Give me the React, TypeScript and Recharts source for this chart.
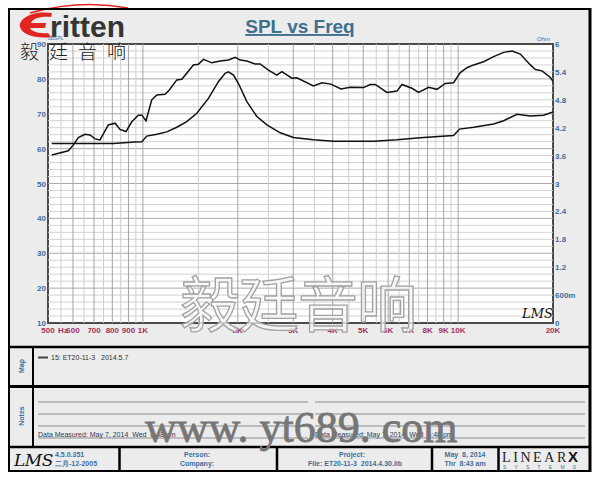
import React from "react";
import { LineChart, Line, XAxis, YAxis, ReferenceLine, ReferenceArea } from "recharts";

// SPL curve (dB)
const splFreq = [
  514, 580, 601, 624, 655, 680, 705, 731, 777, 816, 846, 884, 922, 967, 992, 1023, 1067, 1107, 1176, 1213,
  1281, 1329, 1446, 1500, 1556, 1655, 1758, 1868, 1963, 2035, 2137, 2270, 2355, 2502, 2661, 2760, 2969, 3079,
  3477, 3697, 3950, 4250, 4547, 5012, 5262, 5460, 5947, 6397, 6636, 7138, 7492, 8061, 8570, 9103, 9673, 10162,
  10670, 11198, 12045, 12963, 13946, 14827, 15754, 16950, 17579, 18466, 19621, 20000,
];
const splDb = [
  58.2, 59.4, 61.0, 63.2, 64.1, 63.9, 62.8, 62.5, 66.8, 67.3, 65.5, 64.9, 67.7, 69.6, 69.6, 68.0, 74.0, 75.4, 75.6, 76.8,
  79.7, 79.9, 84.0, 84.2, 85.6, 84.6, 85.1, 85.4, 86.2, 85.4, 85.1, 84.3, 84.3, 82.5, 81.1, 82.1, 80.2, 80.3,
  78.0, 78.9, 78.5, 77.1, 77.6, 77.5, 78.4, 78.4, 76.1, 76.5, 78.4, 77.3, 76.1, 77.6, 77.0, 78.7, 78.9, 81.8,
  83.2, 84.0, 84.9, 86.4, 87.6, 88.0, 87.1, 84.0, 82.7, 82.3, 80.4, 79.3,
];

// impedance curve (Ohm)
const zFreq = [
  514, 777, 806, 944, 992, 1029, 1107, 1191, 1281, 1378, 1483, 1614, 1736, 1823, 1868, 1938, 2010, 2137, 2299,
  2474, 2726, 3003, 3477, 4025, 5392, 6397, 7770, 9673, 10106, 11198, 12963, 13946, 15380, 16950, 18680, 20000,
];
const zOhm = [
  3.86, 3.86, 3.86, 3.89, 3.9, 4.02, 4.06, 4.11, 4.21, 4.33, 4.51, 4.83, 5.19, 5.37, 5.4, 5.33, 5.15, 4.76, 4.44,
  4.26, 4.09, 3.99, 3.94, 3.91, 3.91, 3.94, 3.99, 4.03, 4.17, 4.21, 4.28, 4.35, 4.49, 4.45, 4.47, 4.54,
];

const freqTicks = [500, 600, 700, 800, 900, 1000, 2000, 3000, 4000, 5000, 6000, 7000, 8000, 9000, 10000, 20000];
const freqLabels = ["500", "600", "700", "800", "900", "1K", "2K", "3K", "4K", "5K", "6K", "7K", "8K", "9K", "10K", "20K"];
const minorFreq = [550, 650, 750, 850, 950, 1500, 2500, 3500, 4500, 5500, 6500, 7500, 8500, 9500];
const dbTicks = [10, 20, 30, 40, 50, 60, 70, 80, 90];
const minorDb = [
  12, 14, 16, 18, 22, 24, 26, 28, 32, 34, 36, 38, 42, 44, 46, 48, 52, 54, 56, 58, 62, 64, 66, 68, 72, 74, 76, 78, 82,
  84, 86, 88,
];
const ohmTicks = [0, 0.6, 1.2, 1.8, 2.4, 3, 3.6, 4.2, 4.8, 5.4, 6];
const ohmLabels = ["0", "600m", "1.2", "1.8", "2.4", "3", "3.6", "4.2", "4.8", "5.4", "6"];

const splData = splFreq.map((f, i) => ({ f, v: splDb[i] }));
const zData = zFreq.map((f, i) => ({ f, v: zOhm[i] }));

const BLUE = "#3d6f9e";
const MAROON = "#a3335f";
const SANS = "'Liberation Sans', Arial, sans-serif";

const XTick = (props: any) => {
  const { x, y, payload } = props;
  const i = freqTicks.indexOf(payload.value);
  return (
    <g>
      <text x={x} y={y + 10} textAnchor="middle" fill={MAROON} fontSize={8} fontWeight={700} fontFamily={SANS}>
        {freqLabels[i]}
      </text>
      {payload.value === 500 && (
        <text x={x + 15} y={y + 10} textAnchor="middle" fill={MAROON} fontSize={8} fontWeight={700} fontFamily={SANS}>
          Hz
        </text>
      )}
    </g>
  );
};

const LeftTick = (props: any) => {
  const { x, y, payload } = props;
  return (
    <text x={x - 2} y={y + 3} textAnchor="end" fill={BLUE} fontSize={8} fontWeight={700} fontFamily={SANS}>
      {payload.value}
    </text>
  );
};

const RightTick = (props: any) => {
  const { x, y, payload } = props;
  const i = ohmTicks.indexOf(payload.value);
  return (
    <text x={x + 2} y={y + 3} textAnchor="start" fill={BLUE} fontSize={8} fontWeight={700} fontFamily={SANS}>
      {ohmLabels[i]}
    </text>
  );
};

function Overlay() {
  const t = { fontFamily: SANS, fontWeight: 700, fontSize: 7, fill: BLUE } as const;
  return (
    <svg width={600} height={480} style={{ position: "absolute", left: 0, top: 0, pointerEvents: "none" }}>
      {/* logo */}
      <path d="M30 13 Q80 -1 128 8" stroke="#e0261f" strokeWidth={1.6} fill="none" />
      <path
        d="M52 13 C32 10 18 19 20 27 C22 35 37 39 51 37 L48 33 C38 34 31 31 30 28 L45 28 L46 23 L31 23 C33 18 41 16 51 17 Z"
        fill="#e0261f"
      />
      <text x={50} y={37} fontFamily={SANS} fontWeight={700} fontSize={30} fill="#353535">
        ritten
      </text>
      <text x={48} y={40} fontFamily={SANS} fontSize={5} fill={BLUE}>
        dBSPL
      </text>
      <text x={20} y={59} fontFamily="'Noto Sans CJK SC'" fontSize={19} fontWeight={300} letterSpacing={10} fill="#222">
        毅廷音响
      </text>
      <text x={300} y={33} textAnchor="middle" fontFamily={SANS} fontWeight={700} fontSize={19} fill="#40708e" textDecoration="underline">
        SPL vs Freq
      </text>
      <text x={537} y={41} fontFamily={SANS} fontSize={6} fill={BLUE}>
        Ohm
      </text>
      <text x={522} y={318} fontFamily="'DejaVu Serif'" fontStyle="italic" fontSize={13} fill="#111">
        LMS
      </text>

      {/* watermark in plot */}
      <text
        x={180}
        y={327}
        fontFamily="'Noto Sans CJK SC'"
        fontWeight={400}
        fontSize={60}
        letterSpacing={-1}
        fill="#f7f7f7"
        fillOpacity={0.75}
        stroke="#a2a2a2"
        strokeWidth={1.3}
      >
        毅廷音响
      </text>

      {/* frames */}
      <rect x={9} y={9} width={581} height={462} fill="none" stroke="#000" strokeWidth={2} />
      <line x1={590} y1={8} x2={590} y2={472} stroke="#000" strokeWidth={3} />
      <line x1={8} y1={347} x2={591} y2={347} stroke="#000" strokeWidth={2.5} />
      <line x1={8} y1={386.5} x2={591} y2={386.5} stroke="#000" strokeWidth={3} />
      <line x1={8} y1={447} x2={591} y2={447} stroke="#000" strokeWidth={2.5} />
      <line x1={33} y1={347} x2={33} y2={447} stroke="#000" strokeWidth={2} />
      {[119.5, 277, 432, 498.5].map((x) => (
        <line key={x} x1={x} y1={447} x2={x} y2={472} stroke="#000" strokeWidth={2.5} />
      ))}

      {/* map panel */}
      <text {...t} transform="translate(23.5 366) rotate(-90)" textAnchor="middle">
        Map
      </text>
      <line x1={38} y1={357.5} x2={48} y2={357.5} stroke="#444" strokeWidth={2} />
      <text x={51} y={360} fontFamily={SANS} fontSize={7} fill="#333">
        15: ET20-11-3{"\u00a0\u00a0\u00a0"}2014.5.7
      </text>

      {/* notes panel */}
      <text {...t} transform="translate(23.5 416) rotate(-90)" textAnchor="middle">
        Notes
      </text>
      {[402, 414, 426, 438].map((y) => (
        <g key={y}>
          <line x1={38} y1={y} x2={308} y2={y} stroke="#8c8c8c" strokeWidth={1} />
          <line x1={315} y1={y} x2={585} y2={y} stroke="#8c8c8c" strokeWidth={1} />
        </g>
      ))}
      <text x={38} y={436.5} fontFamily={SANS} fontSize={7} fill="#2b3a58">
        Data Measured: May 7, 2014{"\u00a0\u00a0"}Wed{"\u00a0\u00a0"}6:48 pm
      </text>
      <text x={315} y={436.5} fontFamily={SANS} fontSize={7} fill="#2b3a58">
        Data Measured: May 7, 2014{"\u00a0\u00a0"}Wed{"\u00a0\u00a0"}6:48 pm
      </text>

      {/* footer */}
      <text x={14} y={466} fontFamily="'DejaVu Serif'" fontStyle="italic" fontSize={17} fill="#111" letterSpacing={-0.5}>
        LMS
      </text>
      <text {...t} x={55} y={457}>
        4.5.0.351
      </text>
      <text {...t} x={55} y={466}>
        二月-12-2005
      </text>
      <text {...t} x={197} y={457} textAnchor="middle">
        Person:
      </text>
      <text {...t} x={197} y={466} textAnchor="middle">
        Company:
      </text>
      <text {...t} x={352} y={457} textAnchor="middle">
        Project:
      </text>
      <text {...t} x={355} y={466} textAnchor="middle">
        File: ET20-11-3{"\u00a0\u00a0"}2014.4.30.lib
      </text>
      <text {...t} x={465} y={457} textAnchor="middle">
        May{"\u00a0\u00a0"}8, 2014
      </text>
      <text {...t} x={465} y={466} textAnchor="middle">
        Thr{"\u00a0\u00a0"}8:43 am
      </text>
      <text x={502} y={462} fontFamily="'Liberation Serif'" fontSize={14} letterSpacing={2.6} fill="#222">
        LINEAR
      </text>
      <text x={568} y={462} fontFamily={SANS} fontWeight={900} fontSize={15} fill="#111">
        X
      </text>
      <text x={503} y={469} fontFamily={SANS} fontSize={5} fill={BLUE} letterSpacing={8.2}>
        SYSTEMS
      </text>

      {/* site watermark */}
      <text x={145} y={442} fontFamily="'Liberation Serif'" fontSize={44} fill="#767676" stroke="#767676" strokeWidth={0.8}>
        www. yt689. com
      </text>
    </svg>
  );
}

export default function App() {
  return (
    <div style={{ position: "absolute", left: 0, top: 0, width: 600, height: 480, background: "#fff" }}>
      <div style={{ position: "absolute", left: 8, top: 8, width: 583, height: 464, background: "#ececec" }} />
      <div style={{ position: "absolute", left: 0, top: 0 }}>
        <LineChart width={600} height={345} margin={{ top: 44, right: 7, bottom: 2, left: 8 }}>
          <XAxis
            dataKey="f"
            type="number"
            scale="log"
            domain={[500, 20000]}
            ticks={freqTicks}
            allowDataOverflow
            axisLine={false}
            tickLine={false}
            tickSize={0}
            tickMargin={0}
            height={20}
            interval={0}
            tick={<XTick />}
          />
          <YAxis
            yAxisId="spl"
            domain={[10, 90]}
            ticks={dbTicks}
            axisLine={false}
            tickLine={false}
            tickSize={0}
            tickMargin={0}
            width={40}
            interval={0}
            tick={<LeftTick />}
          />
          <YAxis
            yAxisId="z"
            orientation="right"
            domain={[0, 6]}
            ticks={ohmTicks}
            axisLine={false}
            tickLine={false}
            tickSize={0}
            tickMargin={0}
            width={40}
            interval={0}
            tick={<RightTick />}
          />
          <ReferenceArea yAxisId="spl" x1={500} x2={20000} y1={10} y2={90} fill="#ffffff" fillOpacity={1} stroke="none" />
          {minorDb.map((v) => (
            <ReferenceLine key={"hm" + v} yAxisId="spl" y={v} stroke="#d2d2d2" strokeWidth={1} />
          ))}
          {dbTicks.slice(1, -1).map((v) => (
            <ReferenceLine key={"hM" + v} yAxisId="spl" y={v} stroke="#aaaaaa" strokeWidth={1} />
          ))}
          {minorFreq.map((v) => (
            <ReferenceLine key={"vm" + v} yAxisId="spl" x={v} stroke="#cfcfcf" strokeWidth={1} />
          ))}
          {freqTicks.slice(1, -1).map((v) => (
            <ReferenceLine key={"vM" + v} yAxisId="spl" x={v} stroke="#a4a4a4" strokeWidth={1} />
          ))}
          <Line
            data={zData}
            dataKey="v"
            yAxisId="z"
            type="linear"
            stroke="#111"
            strokeWidth={1.5}
            dot={false}
            isAnimationActive={false}
          />
          <Line
            data={splData}
            dataKey="v"
            yAxisId="spl"
            type="linear"
            stroke="#111"
            strokeWidth={1.5}
            dot={false}
            isAnimationActive={false}
          />
          <ReferenceArea
            yAxisId="spl"
            x1={500}
            x2={20000}
            y1={10}
            y2={90}
            fill="none"
            stroke="#4a4a4a"
            strokeWidth={2}
          />
        </LineChart>
      </div>
      <Overlay />
    </div>
  );
}
